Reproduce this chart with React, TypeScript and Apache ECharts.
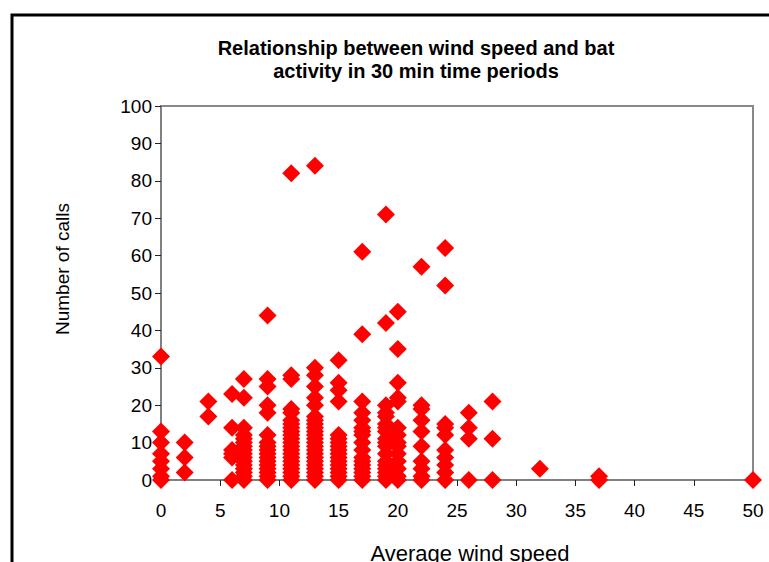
import React, { useEffect, useRef } from "react";
import * as echarts from "echarts";

// Wind speed values (x) and the number of calls recorded at each (y)
const windSpeeds = [0, 2, 4, 6, 7, 9, 11, 13, 15, 17, 19, 20, 22, 24, 26, 28, 32, 37, 50];
const callsByWind: number[][] = [
  [0, 1, 3, 5, 7, 10, 13, 33],
  [2, 6, 10],
  [17, 21],
  [0, 6, 7, 8, 14, 23],
  [0, 1, 2, 3, 4, 5, 6, 7, 8, 9, 10, 11, 12, 14, 22, 27],
  [0, 1, 2, 3, 4, 5, 6, 7, 8, 9, 10, 12, 18, 20, 25, 27, 44],
  [0, 1, 2, 3, 4, 5, 6, 7, 8, 9, 10, 11, 12, 13, 14, 15, 16, 18, 19, 27, 28, 82],
  [0, 1, 2, 3, 4, 5, 6, 7, 8, 9, 10, 11, 12, 13, 14, 15, 16, 17, 20, 22, 25, 28, 30, 84],
  [0, 1, 2, 3, 4, 5, 6, 7, 8, 9, 10, 11, 12, 21, 24, 26, 32],
  [0, 1, 2, 3, 4, 5, 6, 8, 10, 12, 13, 14, 16, 18, 21, 39, 61],
  [0, 1, 2, 3, 4, 5, 7, 9, 10, 11, 13, 14, 15, 17, 18, 20, 42, 71],
  [0, 1, 3, 5, 7, 9, 10, 12, 14, 21, 22, 26, 35, 45],
  [0, 1, 3, 5, 9, 13, 16, 19, 20, 57],
  [0, 2, 4, 6, 8, 12, 14, 15, 52, 62],
  [0, 11, 14, 18],
  [0, 11, 21],
  [3],
  [0, 1],
  [0],
];

const titleLines = ["Relationship between wind speed and bat", "activity in 30 min time periods"];
const xAxisTitle = "Average wind speed";
const yAxisTitle = "Number of calls";

const FONT = "'Liberation Sans', Arial, sans-serif";

export default function App() {
  const ref = useRef<HTMLDivElement>(null);

  useEffect(() => {
    if (!ref.current) return;
    document.body.style.margin = "0";
    const chart = echarts.init(ref.current, undefined, { renderer: "svg" });
    const points: number[][] = [];
    windSpeeds.forEach((w, i) => {
      callsByWind[i].forEach((c) => points.push([w, c]));
    });

    chart.setOption({
      animation: false,
      backgroundColor: "#ffffff",
      title: {
        text: titleLines.join("\n"),
        left: 411,
        top: 31,
        textAlign: "center",
        textStyle: {
          fontFamily: FONT,
          fontWeight: "bold",
          fontSize: 20,
          lineHeight: 23,
          color: "#000",
        },
      },
      grid: {
        left: 161,
        right: 16,
        top: 106,
        bottom: 82,
        show: true,
        borderColor: "#888888",
        borderWidth: 2,
        backgroundColor: "#ffffff",
        containLabel: false,
        outerBoundsMode: "none",
      },
      xAxis: {
        type: "value",
        min: 0,
        max: 50,
        interval: 5,
        axisLine: { show: true, onZero: false, lineStyle: { color: "#808080", width: 2 } },
        axisTick: { show: true, inside: false, length: 6, lineStyle: { color: "#222", width: 1 } },
        splitLine: { show: false },
        axisLabel: { fontFamily: FONT, fontSize: 19, color: "#000", margin: 21 },
      },
      yAxis: {
        type: "value",
        min: 0,
        max: 100,
        interval: 10,
        axisLine: { show: true, onZero: false, lineStyle: { color: "#808080", width: 2 } },
        axisTick: { show: true, inside: false, length: 6, lineStyle: { color: "#222", width: 1 } },
        splitLine: { show: false },
        axisLabel: { fontFamily: FONT, fontSize: 19, color: "#000", margin: 9 },
      },
      graphic: [
        {
          type: "rect",
          shape: { x: 12, y: 15, width: 900, height: 700 },
          style: { fill: "none", stroke: "#000", lineWidth: 3 },
          z: 100,
        },
        {
          type: "text",
          x: 62,
          y: 269,
          rotation: Math.PI / 2,
          style: {
            text: yAxisTitle,
            fontFamily: FONT,
            fontSize: 19,
            fill: "#000",
            textAlign: "center",
            textVerticalAlign: "middle",
          },
        },
        {
          type: "text",
          x: 470,
          y: 553,
          style: {
            text: xAxisTitle,
            fontFamily: FONT,
            fontSize: 22,
            fill: "#000",
            textAlign: "center",
            textVerticalAlign: "middle",
          },
        },
      ],
      series: [
        {
          type: "scatter",
          data: points,
          symbol: "diamond",
          symbolSize: 18,
          itemStyle: { color: "#ff0000", opacity: 1 },
          emphasis: { disabled: true },
        },
      ],
    });
    return () => chart.dispose();
  }, []);

  return <div ref={ref} style={{ width: 769, height: 562 }} />;
}
